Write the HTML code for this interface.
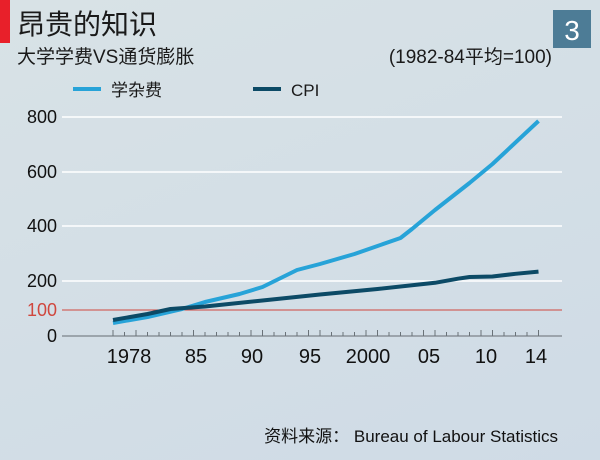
<!DOCTYPE html>
<html><head><meta charset="utf-8"><style>
body{margin:0;width:600px;height:460px;overflow:hidden;background:linear-gradient(160deg,#d8e2e6,#cfdbe6);font-family:"Liberation Sans","Noto Sans CJK SC",sans-serif}
</style></head><body>
<svg width="600" height="460" xmlns="http://www.w3.org/2000/svg" style="position:absolute;left:0;top:0">
<rect x="0" y="0" width="10" height="43" fill="#e8202a"/>
<text x="17" y="34" font-size="28" fill="#1a1a1a" font-family="Noto Sans CJK SC,sans-serif">昂贵的知识</text>
<rect x="553" y="10" width="38" height="38" fill="#4d7c96"/>
<text x="572" y="40" font-size="28" fill="#fff" text-anchor="middle" font-family="Liberation Sans,sans-serif">3</text>
<text x="17" y="63" font-size="19" fill="#1a1a1a" font-family="Liberation Sans,Noto Sans CJK SC,sans-serif">大学学费VS通货膨胀</text>
<text x="552" y="63" font-size="19" fill="#1a1a1a" text-anchor="end" font-family="Liberation Sans,Noto Sans CJK SC,sans-serif">(1982-84平均=100)</text>
<line x1="73" y1="89" x2="101" y2="89" stroke="#27a3d8" stroke-width="4"/>
<text x="111" y="96" font-size="17" fill="#1a1a1a" font-family="Noto Sans CJK SC,sans-serif">学杂费</text>
<line x1="253" y1="89" x2="281" y2="89" stroke="#0c4a66" stroke-width="4"/>
<text x="291" y="96" font-size="17" fill="#1a1a1a">CPI</text>
<g stroke="#fff" stroke-width="1.5">
<line x1="62" y1="117" x2="562" y2="117"/><line x1="62" y1="172" x2="562" y2="172"/><line x1="62" y1="226" x2="562" y2="226"/><line x1="62" y1="281" x2="562" y2="281"/>
</g>
<line x1="62" y1="310" x2="562" y2="310" stroke="#d0473e" stroke-width="1"/>
<line x1="62" y1="336" x2="562" y2="336" stroke="#8a9298" stroke-width="1.5"/>
<g stroke="#6a7278" stroke-width="1">
<path d="M113 336v-6M124.5 336v-4M136 336v-6M147.5 336v-4M159 336v-4M170.5 336v-4M182 336v-4M193.5 336v-6M205 336v-4M216.5 336v-4M228 336v-4M239.5 336v-4M251 336v-6M262.5 336v-6M274 336v-4M285.5 336v-4M297 336v-4M308.5 336v-6M320 336v-6M331.5 336v-4M343 336v-4M354.5 336v-4M366 336v-6M377.5 336v-6M389 336v-4M400.5 336v-4M412 336v-4M423.5 336v-6M435 336v-6M446.5 336v-4M458 336v-4M469.5 336v-4M481 336v-6M492.5 336v-6M504 336v-4M515.5 336v-4M527 336v-4M538.5 336v-6"/>
</g>
<g font-size="18" fill="#111" text-anchor="end">
<text x="57" y="123">800</text><text x="57" y="178">600</text><text x="57" y="232">400</text><text x="57" y="287">200</text>
<text x="57" y="316" fill="#d0473e">100</text><text x="57" y="342">0</text>
</g>
<g font-size="20" fill="#111" text-anchor="middle">
<text x="129" y="363">1978</text><text x="196" y="363">85</text><text x="252" y="363">90</text><text x="310" y="363">95</text><text x="368" y="363">2000</text><text x="429" y="363">05</text><text x="486" y="363">10</text><text x="536" y="363">14</text>
</g>
<polyline fill="none" stroke="#27a3d8" stroke-width="4" stroke-linejoin="round" points="113,323 147.5,317 182,309 205,302 239.5,294 262.5,287 297,270 320,264 354.5,254 377.5,246 400.5,238 412,229 435,210 469.5,183 492.5,164 538.5,121"/>
<polyline fill="none" stroke="#0c4a66" stroke-width="4" stroke-linejoin="round" points="113,320 147.5,314 170.5,309 205,306.5 262.5,300.5 320,294.5 377.5,289 435,282.8 458,278.7 469.5,277 492.5,276.5 515.5,273.8 538.5,271.6"/>
<text x="558" y="442" font-size="17" fill="#111" text-anchor="end" font-family="Liberation Sans,Noto Sans CJK SC,sans-serif">资料来源： Bureau of Labour Statistics</text>
</svg>
</body></html>
